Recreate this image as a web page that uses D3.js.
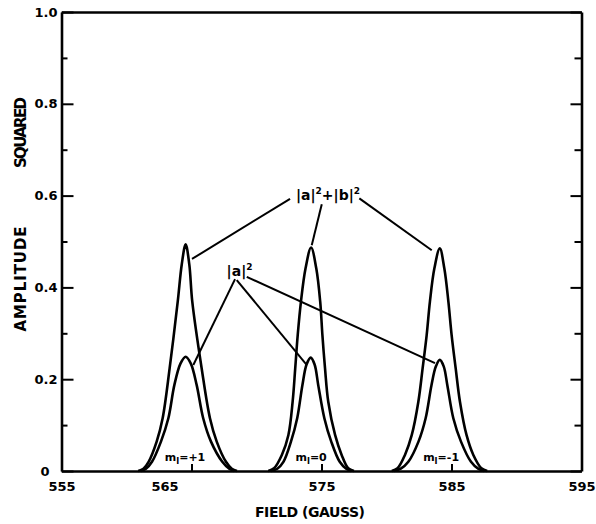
<!DOCTYPE html>
<html>
<head>
<meta charset="utf-8">
<script src="https://cdn.jsdelivr.net/npm/d3@7"></script>
<style>
  body { margin: 0; background: #fff; }
  text { font-family: "DejaVu Sans", sans-serif; fill: #000; }
</style>
</head>
<body>
<div id="viz"></div>
<script>
// axis ticks
const fieldTicks = [555, 565, 575, 585, 595]
const ampTicks = [0, 0.2, 0.4, 0.6, 0.8, 1.0]
const ampMinor = [0.1, 0.3, 0.5, 0.7, 0.9]

// |a|^2 + |b|^2 curves, [field, amplitude squared]
const sumPlus1 = [[560.9, 0], [561.3, 0.005], [561.7, 0.020], [562.32, 0.064], [562.78, 0.115], [563.32, 0.224],
  [563.94, 0.369], [564.25, 0.45], [564.55, 0.494], [564.83, 0.45], [565.06, 0.369], [565.78, 0.224],
  [566.42, 0.115], [566.94, 0.064], [567.65, 0.020], [568.1, 0.005], [568.5, 0]]
const sumZero = [[570.9, 0], [571.35, 0.006], [571.95, 0.035], [572.45, 0.078], [572.78, 0.151], [572.98, 0.224],
  [573.17, 0.296], [573.42, 0.369], [573.77, 0.441], [574.2, 0.487], [574.6, 0.441], [574.9, 0.369],
  [575.07, 0.296], [575.27, 0.224], [575.52, 0.151], [576.05, 0.078], [576.55, 0.035], [577.05, 0.006], [577.5, 0]]
const sumMinus1 = [[580.4, 0], [580.85, 0.006], [581.42, 0.035], [581.94, 0.078], [582.45, 0.151], [582.78, 0.224],
  [583.09, 0.296], [583.34, 0.369], [583.68, 0.441], [584.1, 0.485], [584.45, 0.441], [584.76, 0.369],
  [585.01, 0.296], [585.32, 0.224], [585.65, 0.151], [586.16, 0.078], [586.68, 0.035], [587.3, 0.006], [587.75, 0]]

// |a|^2 curves
const aPlus1 = [[561.1, 0], [561.5, 0.005], [561.96, 0.020], [562.65, 0.064], [563.22, 0.115], [563.68, 0.187],
  [564.15, 0.234], [564.55, 0.249], [564.95, 0.234], [565.4, 0.187], [565.9, 0.115], [566.5, 0.064],
  [567.37, 0.020], [567.9, 0.005], [568.3, 0]]
const aZero = [[571.1, 0], [571.6, 0.005], [572.07, 0.020], [572.65, 0.064], [573.13, 0.115], [573.53, 0.187],
  [573.85, 0.232], [574.17, 0.247], [574.47, 0.232], [574.75, 0.187], [575.22, 0.115], [575.75, 0.064],
  [576.4, 0.020], [576.9, 0.005], [577.3, 0]]
const aMinus1 = [[580.6, 0], [581.1, 0.005], [581.68, 0.020], [582.46, 0.064], [583.01, 0.115], [583.46, 0.187],
  [583.8, 0.228], [584.1, 0.242], [584.4, 0.228], [584.68, 0.187], [585.14, 0.115], [585.73, 0.064],
  [586.5, 0.020], [587.05, 0.005], [587.5, 0]]

// leader lines [x1, y1, x2, y2]
const sumLeaders = [[572.58, 0.593, 565.04, 0.462], [575.02, 0.581, 574.25, 0.492], [577.91, 0.594, 583.48, 0.481]]
const aLeaders = [[568.35, 0.418, 565.14, 0.231], [568.48, 0.416, 573.86, 0.231], [569.25, 0.423, 583.73, 0.235]]

const mLabels = ["=+1", "=0", "=-1"]
const mFields = [564.5, 574.2, 584.2]

const width = 596
const height = 524
const margin = {top: 12, right: 14.5, bottom: 53, left: 61.5}
const w = width - margin.left - margin.right
const h = height - margin.top - margin.bottom

const svg = d3.select("#viz").append("svg").attr("width", width).attr("height", height)
const g = svg.append("g").attr("transform", `translate(${margin.left},${margin.top})`)

const x = d3.scaleLinear().domain([555, 595]).range([0, w])
const y = d3.scaleLinear().domain([0, 1]).range([h, 0])

function styleAxis(sel) {
  sel.select(".domain").attr("stroke", "#000").attr("stroke-width", 2.6)
  sel.selectAll(".tick line").attr("stroke", "#000").attr("stroke-width", 2)
  sel.selectAll(".tick text").attr("font-family", "DejaVu Sans").attr("font-size", 13).attr("font-weight", "bold")
}

// bottom axis, ticks inward
const xAxis = g.append("g").attr("transform", `translate(0,${h})`)
  .call(d3.axisBottom(x).tickValues(fieldTicks).tickFormat(d3.format("d")).tickSizeInner(-7).tickSizeOuter(0).tickPadding(11))
styleAxis(xAxis)
xAxis.selectAll(".tick text").filter(d => d === 565).attr("dx", -27)

// left axis
const yAxis = g.append("g")
  .call(d3.axisLeft(y).tickValues(ampTicks).tickFormat(d => d === 0 ? "0" : d3.format(".1f")(d)).tickSizeInner(-12).tickSizeOuter(0).tickPadding(4))
styleAxis(yAxis)
yAxis.selectAll(".tick text").filter(d => d === 0).attr("dx", -8)
g.append("g").call(d3.axisLeft(y).tickValues(ampMinor).tickSize(-6).tickFormat(""))
  .call(s => { s.select(".domain").remove(); s.selectAll("line").attr("stroke", "#000").attr("stroke-width", 2) })

// right axis
const yRight = g.append("g").attr("transform", `translate(${w},0)`)
  .call(d3.axisRight(y).tickValues(ampTicks).tickFormat("").tickSizeInner(-11).tickSizeOuter(0))
styleAxis(yRight)
g.append("g").attr("transform", `translate(${w},0)`)
  .call(d3.axisRight(y).tickValues(ampMinor).tickSize(-7).tickFormat(""))
  .call(s => { s.select(".domain").remove(); s.selectAll("line").attr("stroke", "#000").attr("stroke-width", 2) })

// top
const xTop = g.append("g").call(d3.axisTop(x).tickValues([]).tickSizeOuter(0))
styleAxis(xTop)

// curves
const line = d3.line().x(d => x(d[0])).y(d => y(d[1])).curve(d3.curveCatmullRom.alpha(0.5))
g.append("g").selectAll("path")
  .data([sumPlus1, sumZero, sumMinus1, aPlus1, aZero, aMinus1])
  .join("path")
  .attr("d", line)
  .attr("fill", "none")
  .attr("stroke", "#000")
  .attr("stroke-width", 2.6)
  .attr("stroke-linejoin", "round")

// leaders
g.append("g").selectAll("line")
  .data(sumLeaders.concat(aLeaders))
  .join("line")
  .attr("x1", d => x(d[0])).attr("y1", d => y(d[1]))
  .attr("x2", d => x(d[2])).attr("y2", d => y(d[3]))
  .attr("stroke", "#000").attr("stroke-width", 2)

// labels
const sumText = g.append("text").attr("x", x(575.5)).attr("y", y(0.59))
  .attr("text-anchor", "middle").attr("font-size", 14).attr("font-weight", "bold")
sumText.append("tspan").text("|a|")
sumText.append("tspan").attr("font-size", 9).attr("dy", -6).text("2")
sumText.append("tspan").attr("dy", 6).text("+|b|")
sumText.append("tspan").attr("font-size", 9).attr("dy", -6).text("2")

const aText = g.append("text").attr("x", x(568.7)).attr("y", y(0.425))
  .attr("text-anchor", "middle").attr("font-size", 14).attr("font-weight", "bold")
aText.append("tspan").text("|a|")
aText.append("tspan").attr("font-size", 9).attr("dy", -6).text("2")

mLabels.forEach((lab, i) => {
  const t = g.append("text").attr("x", x(mFields[i])).attr("y", y(0.022))
    .attr("text-anchor", "middle").attr("font-size", 11).attr("font-weight", "bold")
  t.append("tspan").text("m")
  t.append("tspan").attr("font-size", 8).attr("dy", 3).text("I")
  t.append("tspan").attr("dy", -3).text(lab)
})

// axis titles
svg.append("text").attr("x", 310).attr("y", 517).attr("text-anchor", "middle")
  .attr("font-size", 14).attr("font-weight", "bold").attr("textLength", 110).text("FIELD (GAUSS)")

svg.append("text").attr("transform", "translate(26,279) rotate(-90)").attr("text-anchor", "middle")
  .attr("font-size", 15).attr("font-weight", "bold").attr("textLength", 105).text("AMPLITUDE")
svg.append("text").attr("transform", "translate(26,132.5) rotate(-90)").attr("text-anchor", "middle")
  .attr("font-size", 15).attr("font-weight", "bold").attr("textLength", 71).text("SQUARED")
</script>
</body>
</html>
